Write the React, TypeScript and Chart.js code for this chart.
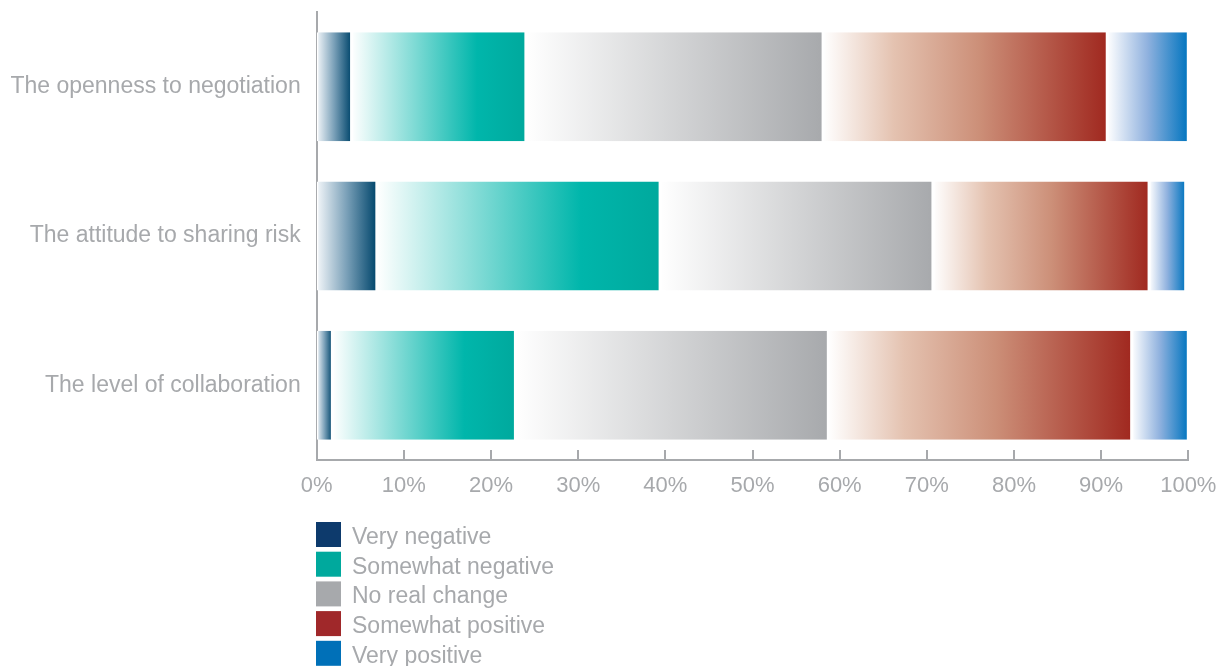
import React, { useEffect, useRef } from "react";
import { Chart, registerables } from "chart.js";

Chart.register(...registerables);

const categories = [
  "The openness to negotiation",
  "The attitude to sharing risk",
  "The level of collaboration",
];
const seriesNames = [
  "Very negative",
  "Somewhat negative",
  "No real change",
  "Somewhat positive",
  "Very positive",
];
const veryNegative = [4.0, 6.9, 1.8];
const somewhatNegative = [20.0, 32.5, 21.0];
const noRealChange = [34.1, 31.3, 35.9];
const somewhatPositive = [32.6, 24.8, 34.8];
const veryPositive = [9.3, 4.2, 6.5];
const seriesValues = [veryNegative, somewhatNegative, noRealChange, somewhatPositive, veryPositive];
const xTicks = [0, 10, 20, 30, 40, 50, 60, 70, 80, 90, 100];

const legendColors = ["#0d3a6c", "#00a99d", "#a7a9ac", "#a0282a", "#0070b8"];
const gradientStops: [number, string][][] = [
  [[0, "#f4f7fa"], [0.5, "#7aa0b8"], [1, "#00456b"]],
  [[0, "#ffffff"], [0.72, "#00b6ab"], [1, "#00a99d"]],
  [[0, "#ffffff"], [1, "#a7a9ac"]],
  [[0, "#ffffff"], [0.25, "#e4c2b0"], [0.55, "#cc8f78"], [1, "#a0281f"]],
  [[0, "#ffffff"], [0.5, "#8fb1de"], [1, "#0074bf"]],
];

const GRAY = "#a7a9ac";
const FONT = "'Liberation Sans', Arial, Helvetica, sans-serif";

function makeBg(dsIndex: number) {
  return (ctx: any) => {
    const chart = ctx.chart;
    const xs = chart.scales && chart.scales.x;
    if (!chart.chartArea || !xs || ctx.type !== "data") return legendColors[dsIndex];
    const i = ctx.dataIndex;
    let start = 0;
    for (let d = 0; d < dsIndex; d++) start += seriesValues[d][i];
    const end = start + seriesValues[dsIndex][i];
    const x0 = xs.getPixelForValue(start);
    const x1 = xs.getPixelForValue(end);
    const g = chart.ctx.createLinearGradient(x0, 0, x1, 0);
    gradientStops[dsIndex].forEach(([o, c]) => g.addColorStop(o, c));
    return g;
  };
}

const extrasPlugin = {
  id: "extras",
  afterDraw(chart: any) {
    const { ctx, chartArea, scales } = chart;
    const xs = scales.x;
    ctx.save();
    ctx.strokeStyle = GRAY;
    ctx.lineWidth = 2;
    xTicks.forEach((v) => {
      if (v === 0) return;
      const px = Math.round(xs.getPixelForValue(v));
      ctx.beginPath();
      ctx.moveTo(px, chartArea.bottom);
      ctx.lineTo(px, chartArea.bottom - 10);
      ctx.stroke();
    });
    const left = chartArea.left - 0.7;
    const top0 = 522;
    const step = 29.7;
    ctx.font = `23px ${FONT}`;
    ctx.textBaseline = "middle";
    ctx.textAlign = "left";
    seriesNames.forEach((name, k) => {
      const y = top0 + k * step;
      ctx.fillStyle = legendColors[k];
      ctx.fillRect(left, y, 25, 25);
      ctx.fillStyle = GRAY;
      ctx.fillText(name, left + 36, y + 15.5);
    });
    ctx.restore();
  },
};

export default function App() {
  const ref = useRef<HTMLCanvasElement | null>(null);
  useEffect(() => {
    if (!ref.current) return;
    const chart = new Chart(ref.current, {
      type: "bar",
      data: {
        labels: categories,
        datasets: seriesNames.map((name, d) => ({
          label: name,
          data: seriesValues[d],
          backgroundColor: makeBg(d),
          borderColor: "#ffffff",
          borderWidth: { left: 1.5, right: 1.5, top: 0, bottom: 0 },
          borderSkipped: false,
          barPercentage: 0.73,
          categoryPercentage: 1,
        })),
      },
      options: {
        indexAxis: "y",
        animation: false,
        responsive: true,
        maintainAspectRatio: false,
        layout: { padding: { left: 0, top: 12, right: 29.7, bottom: 166 } },
        plugins: { legend: { display: false }, tooltip: { enabled: false } },
        scales: {
          x: {
            stacked: true,
            min: 0,
            max: 100,
            afterBuildTicks: (s: any) => {
              s.ticks = xTicks.map((v) => ({ value: v }));
            },
            afterFit: (s: any) => {
              s.height = 40;
              s.paddingLeft = 0;
              s.paddingRight = 0;
            },
            grid: { display: false, drawTicks: false },
            border: { display: true, color: GRAY, width: 2 },
            ticks: {
              padding: 13,
              color: GRAY,
              font: { family: FONT, size: 22 },
              callback: (v: any) => `${v}%`,
            },
          },
          y: {
            stacked: true,
            afterFit: (s: any) => {
              s.width = 316.7;
              s.paddingTop = 0;
              s.paddingBottom = 0;
            },
            grid: { display: false, drawTicks: false },
            border: { display: true, color: GRAY, width: 2 },
            ticks: {
              padding: 16,
              color: GRAY,
              font: { family: FONT, size: 23 },
            },
          },
        },
      },
      plugins: [extrasPlugin],
    });
    return () => chart.destroy();
  }, []);
  return (
    <div style={{ position: "fixed", left: 0, top: 0, width: 1218, height: 666, background: "#fff" }}>
      <canvas ref={ref} />
    </div>
  );
}
